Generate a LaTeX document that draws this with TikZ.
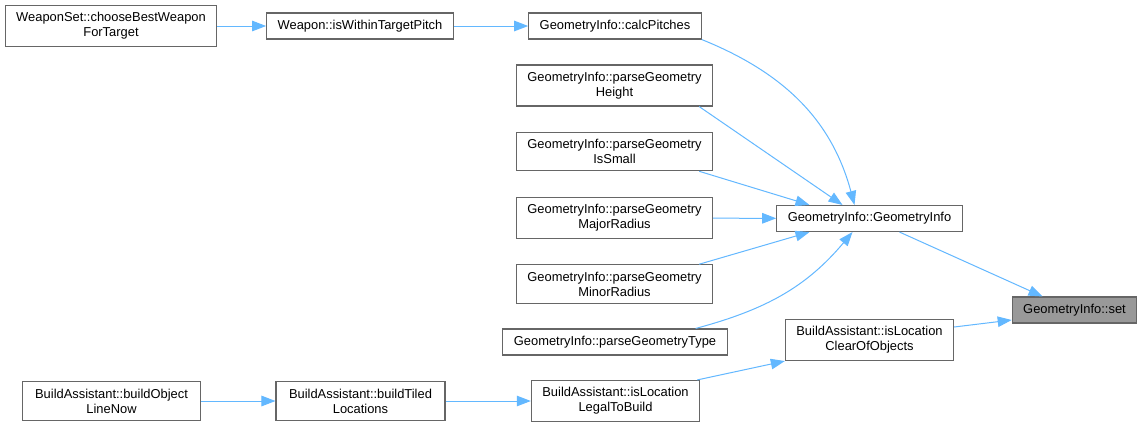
\documentclass[tikz,border=0pt]{standalone}
\usepackage{fontspec}
\setmainfont{Liberation Sans}
\usepackage{xcolor}
\usepackage{tikz}
\usetikzlibrary{arrows.meta,positioning}
\definecolor{edgec}{HTML}{63B8FF}
\definecolor{boxc}{HTML}{666666}
\definecolor{rootc}{HTML}{999999}
\tikzset{
  ar/.style={-{Triangle[length=14pt,width=10.5pt]},line width=1pt,edgec},
  box/.style={draw=boxc,line width=1.1pt,fill=white,align=center,inner xsep=11pt,inner ysep=7pt,font=\fontsize{12.9}{15}\selectfont}
}

\begin{document}
\begin{tikzpicture}[x=1pt,y=1pt]
\fill[white] (0,0) rectangle (1143,-429);
\useasboundingbox (0,0) rectangle (1143,-429);
\node[box] (ws) at (111,-26) {WeaponSet::chooseBestWeapon\\ForTarget};
\node[box] (wp) at (360,-26) {Weapon::isWithinTargetPitch};
\node[box] (cp) at (615,-26) {GeometryInfo::calcPitches};
\node[box] (ph) at (614.5,-85.5) {GeometryInfo::parseGeometry\\Height};
\node[box] (ps) at (614.5,-151.5) {GeometryInfo::parseGeometry\\IsSmall};
\node[box] (pmaj) at (614.5,-218) {GeometryInfo::parseGeometry\\MajorRadius};
\node[box] (pmin) at (614.5,-284) {GeometryInfo::parseGeometry\\MinorRadius};
\node[box] (pt) at (615,-342) {GeometryInfo::parseGeometryType};
\node[box] (gi) at (869.5,-218.5) {GeometryInfo::GeometryInfo};
\node[box,fill=rootc] (gset) at (1074.5,-310) {GeometryInfo::set};
\node[box] (clr) at (869.5,-340) {BuildAssistant::isLocation\\ClearOfObjects};
\node[box,inner xsep=13pt] (bo) at (111.5,-401) {BuildAssistant::buildObject\\LineNow};
\node[box,inner xsep=13pt] (bt) at (360.5,-401) {BuildAssistant::buildTiled\\Locations};
\node[box] (lg) at (615.5,-401) {BuildAssistant::isLocation\\LegalToBuild};

\draw[ar] (ws) -- (wp);
\draw[ar] (wp) -- (cp);
\draw[ar] (cp.south east) to[out=-22,in=105] ([xshift=-15]gi.north);
\draw[ar] ([xshift=-14]ph.south east) -- ([xshift=-27]gi.north);
\draw[ar] ([xshift=-14]ps.south east) -- ([xshift=-60]gi.north);
\draw[ar] (pmaj) -- (gi);
\draw[ar] ([xshift=-14]pmin.north east) -- ([xshift=-60]gi.south);
\draw[ar] ([xshift=-32]pt.north east) to[out=15,in=-130] ([xshift=-17]gi.south);
\draw[ar] ([xshift=30]gi.south) -- ([xshift=-32]gset.north);
\draw[ar] ([yshift=13]clr.east) -- ([yshift=-10]gset.west);
\draw[ar] (bo) -- (bt);
\draw[ar] (bt) -- (lg);
\draw[ar] ([xshift=-3]lg.north east) -- (clr.south west);
\end{tikzpicture}
\end{document}
